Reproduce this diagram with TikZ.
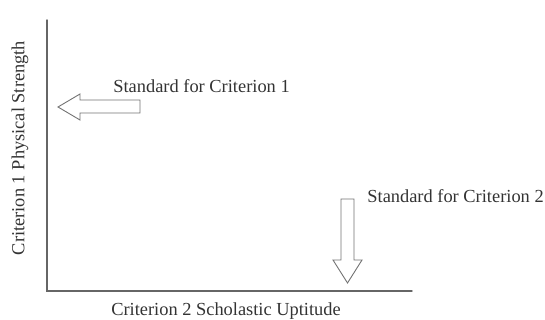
\documentclass[tikz,border=0pt]{standalone}
\usepackage{fontspec}
\setmainfont{Liberation Serif}
\usepackage{tikz}

\begin{document}
\begin{tikzpicture}[line cap=round,x=0.5pt,y=-0.5pt,
  axisline/.style={draw=black!60,line width=0.7pt},
  blockarrow/.style={draw=black!55,line width=0.45pt,fill=white},
  lbl/.style={inner sep=0pt,font=\fontsize{9.2}{11}\selectfont,text=black!80}]
\useasboundingbox (0,0) rectangle (545,320);
\coordinate (orig) at (47,291);
\coordinate (ytop) at (47,20);
\coordinate (xend) at (412,291);
\draw[axisline] (ytop)-- (orig)-- (xend);
\node[lbl,rotate=90] (ylabel) at (20,148) {Criterion 1 Physical Strength};
\node[lbl] (xlabel) at (226,311) {Criterion 2 Scholastic Uptitude};
% standard arrows
\draw[blockarrow] (140,100)-- (80,100)-- (80,94)-- (58,107)-- (80,120)-- (80,113)-- (140,113)-- cycle;
\draw[blockarrow] (341,199)-- (354,199)-- (354,260)-- (362,260)-- (347.5,283)-- (333,260)-- (341,260)-- cycle;
\node[lbl,anchor=west] (std1) at (113,86) {Standard for Criterion 1};
\node[lbl,anchor=west] (std2) at (367,196) {Standard for Criterion 2};
\end{tikzpicture}
\end{document}
